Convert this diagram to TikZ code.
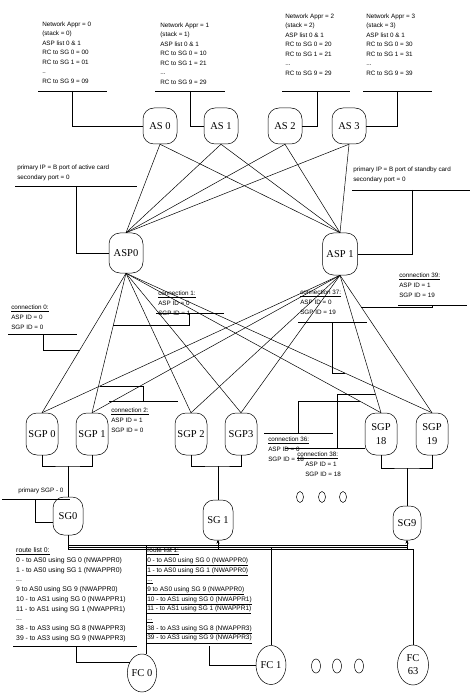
\documentclass[tikz,border=0pt]{standalone}
\usepackage{fontspec}
\setmainfont{Liberation Serif}
\setsansfont{Liberation Sans}
\usetikzlibrary{shapes.geometric,arrows.meta,calc}
\begin{document}
\begin{tikzpicture}[x=1pt,y=-1pt,line width=0.5pt,
  ndbox/.style={draw,rounded corners=11pt,minimum width=34pt,minimum height=38pt,inner sep=0pt,align=center,font=\fontsize{10.5}{14}\selectfont},
  fcbox/.style={draw,ellipse,inner sep=0pt,minimum width=28pt,minimum height=39pt,align=center,font=\fontsize{10.5}{13}\selectfont},
  smalldot/.style={draw,ellipse,inner sep=0pt,minimum width=7pt,minimum height=11pt},
  bigdot/.style={draw,ellipse,inner sep=0pt,minimum width=9pt,minimum height=14pt},
  txt/.style={anchor=north west,inner sep=0pt,align=left,font=\sffamily\fontsize{6.3}{9.5}\selectfont},
  rtxt/.style={anchor=north west,inner sep=0pt,align=left,font=\sffamily\fontsize{6.8}{9.7}\selectfont},
  ctxt/.style={anchor=north west,inner sep=0pt,align=left,font=\sffamily\fontsize{6.3}{10}\selectfont},
  tip/.style={{Stealth[length=3pt,width=2.5pt]}-}]
\useasboundingbox (0,0) rectangle (470,700);

% ---------- AS nodes ----------
\node[ndbox,minimum height=36pt] (as0) at (160,126) {AS 0};
\node[ndbox,minimum height=36pt] (as1) at (221,126) {AS 1};
\node[ndbox,minimum height=36pt] (as2) at (285,126) {AS 2};
\node[ndbox,minimum height=36pt] (as3) at (349,126) {AS 3};

% ---------- ASP nodes ----------
\node[ndbox,minimum height=40pt] (asp0) at (126,253) {ASP0};
\node[ndbox,minimum width=35pt,minimum height=42pt] (asp1) at (340,254) {ASP 1};

% ---------- SGP nodes ----------
\node[ndbox,minimum width=32pt,minimum height=42pt] (sgp0) at (42,434) {SGP 0};
\node[ndbox,minimum width=32pt,minimum height=42pt] (sgp1) at (92,434) {SGP 1};
\node[ndbox,minimum width=32pt,minimum height=42pt] (sgp2) at (191,434) {SGP 2};
\node[ndbox,minimum width=32pt,minimum height=42pt] (sgp3) at (241,434) {SGP3};
\node[ndbox,minimum width=32pt,minimum height=42pt] (sgp18) at (381,434) {SGP\\18};
\node[ndbox,minimum width=32pt,minimum height=42pt] (sgp19) at (432,434) {SGP\\19};

% ---------- SG nodes ----------
\node[ndbox,minimum width=30pt,minimum height=38pt] (sg0) at (68,516) {SG0};
\node[ndbox,minimum width=30pt,minimum height=40pt] (sg1) at (218,520) {SG 1};
\node[ndbox,minimum width=28pt,minimum height=34pt] (sg9) at (407,523) {SG9};

% ---------- FC nodes ----------
\node[fcbox,minimum width=26pt,minimum height=38pt] (fc0) at (142,673) {FC 0};
\node[fcbox,minimum width=30pt] (fc1) at (271,665) {FC 1};
\node[fcbox,minimum width=31pt,minimum height=40pt] (fc63) at (413,665) {FC\\63};

% ---------- dots ----------
\node[smalldot] (d1) at (300,497) {};
\node[smalldot] (d2) at (322,497) {};
\node[smalldot] (d3) at (343,497) {};
\node[bigdot] (d4) at (316,666) {};
\node[bigdot] (d5) at (337,666) {};
\node[bigdot] (d6) at (359,666) {};

% ---------- AS -- ASP ----------
\foreach \a in {as0,as1,as2,as3}{
  \draw (\a.south) -- (asp0.north);
  \draw (\a.south) -- (asp1.north);
}
% ---------- ASP -- SGP ----------
\foreach \s in {sgp0,sgp1,sgp2,sgp3,sgp18,sgp19}{
  \draw (asp0.south) -- (\s.north);
  \draw (asp1.south) -- (\s.north);
}

% ---------- SGP pairs -- SG ----------
\coordinate (j0) at (68,466);
\coordinate (j1) at (218,466);
\coordinate (j9) at (407,468);
\draw (sgp0.south) |- (j0) -| (sgp1.south);
\draw (j0) -- (sg0.north);
\draw (sgp2.south) |- (j1) -| (sgp3.south);
\draw (j1) -- (sg1.north);
\draw (sgp18.south) |- (j9) -| (sgp19.south);
\draw (j9) -- (sg9.north);

% ---------- SG -- FC bus ----------
\coordinate (b0) at (146,545);
\coordinate (b1) at (271,547);
\coordinate (b63) at (413,549);
\foreach \b/\f in {b0/fc0,b1/fc1,b63/fc63}{
  \draw (sg0.south) |- (\b) -- (\b |- \f.north);
  \draw[tip] (sg1.south) |- (\b) -- (\b |- \f.north);
  \draw[tip] (sg9.south) |- (\b) -- (\b |- \f.north);
}

% ---------- top text blocks ----------
\node[txt] (t0) at (42,21.5) {Network Appr = 0\\(stack = 0)\\ASP list 0 \& 1\\RC to SG 0 = 00\\RC to SG 1 = 01\\..\\RC to SG 9 = 09};
\node[txt] (t1) at (160,22.5) {Network Appr = 1\\(stack = 1)\\ASP list 0 \& 1\\RC to SG 0 = 10\\RC to SG 1 = 21\\...\\RC to SG 9 = 29};
\node[txt] (t2) at (285,13.5) {Network Appr = 2\\(stack = 2)\\ASP list 0 \& 1\\RC to SG 0 = 20\\RC to SG 1 = 21\\...\\RC to SG 9 = 29};
\node[txt] (t3) at (366,13.5) {Network Appr = 3\\(stack = 3)\\ASP list 0 \& 1\\RC to SG 0 = 30\\RC to SG 1 = 31\\...\\RC to SG 9 = 39};
\draw (38,91) -- (107,91);
\draw (155,91) -- (225,91);
\draw (282,91) -- (350,91);
\draw (363,91) -- (432,91);
\coordinate (u0) at (72,91);
\coordinate (u1) at (190,91);
\coordinate (u2) at (317,91);
\coordinate (u3) at (397,91);
\draw (u0) |- (as0.west);
\draw (u1) |- (as1.west);
\draw (u2) |- (as2.east);
\draw (u3) |- (as3.east);

% ---------- primary IP ----------
\node[ctxt] (pa) at (17,164.7) {primary IP = B port of active card\\secondary port = 0};
\node[ctxt] (pb) at (353,166.7) {primary IP = B port of standby card\\secondary port = 0};
\draw (15,186) -- (137,186);
\draw (352,190) -- (470,190);
\coordinate (pi0) at (76,186);
\coordinate (pi1) at (412,190);
\draw (pi0) |- (asp0.west);
\draw (pi1) |- (asp1.east);

% ---------- connection labels ----------
\node[ctxt] (c0) at (11,304.7) {\underline{connection 0:}\\ASP ID = 0\\SGP ID = 0};
\node[ctxt] (c1) at (158,290.7) {\underline{connection 1:}\\ASP ID = 0\\SGP ID = 1};
\node[ctxt] (c2) at (111,407.7) {\underline{connection 2:}\\ASP ID = 1\\SGP ID = 0};
\node[ctxt] (c37) at (300,289.7) {\underline{connection 37:}\\ASP ID = 0\\SGP ID = 19};
\node[ctxt] (c39) at (399,272.7) {\underline{connection 39:}\\ASP ID = 1\\SGP ID = 19};
\node[ctxt] (c36) at (268,436.7) {\underline{connection 36:}\\ASP ID = 0\\SGP ID = 18};
\node[ctxt] (c38) at (297,451.7) {\underline{connection 38:}\\\hspace*{8pt}ASP ID = 1\\\hspace*{8pt}SGP ID = 18};

\draw (8,334) -- (77,334);
\draw (156,313) -- (224,313);
\draw (109,401) -- (178,401);
\draw (298,322) -- (367,322);
\draw (398,305) -- (467,305);
\draw (264,433) -- (333,433);

\coordinate (k0) at (43,334);
\coordinate (k1) at (189,313);
\coordinate (k2) at (143,401);
\coordinate (k37) at (332,322);
\coordinate (k39) at (432,305);
\coordinate (k36) at (298,433);
\coordinate (k38) at (337,448);
\coordinate (e0) at (intersection of asp0.south--sgp0.north and 0,350--470,350);
\coordinate (e1) at (intersection of asp0.south--sgp1.north and 0,325--470,325);
\coordinate (e2) at (intersection of asp1.south--sgp0.north and 0,386--470,386);
\coordinate (e37) at (intersection of asp0.south--sgp19.north and 0,373--470,373);
\coordinate (e39) at (intersection of asp1.south--sgp19.north and 0,307--470,307);
\coordinate (e36) at (intersection of asp0.south--sgp18.north and 0,401--470,401);
\coordinate (e38) at (intersection of asp1.south--sgp18.north and 0,394--470,394);
\coordinate (s38a) at (285,448);
\coordinate (s38b) at (sgp18.west |- 0,448);
\draw (k0) |- (e0);
\draw (k1) |- (e1);
\draw (k2) |- (e2);
\draw (k37) |- (e37);
\draw (k39) |- (e39);
\draw (k36) |- (e36);
\draw (k38) |- (e38);
\draw (s38a) -- (s38b);

% ---------- primary SGP ----------
\node[ctxt] (ps) at (18,487.7) {primary SGP - 0};
\draw (2,499) -- (70,499);
\coordinate (psg) at (35,499);
\coordinate (psgend) at (sg0.west |- 0,522);
\draw (psg) |- (psgend);

% ---------- route lists ----------
\node[rtxt] (rl0) at (16,547.7) {\underline{route list 0:}\\0 - to AS0 using SG 0 (NWAPPR0)\\1 - to AS0 using SG 1 (NWAPPR0)\\...\\9 to AS0 using SG 9 (NWAPPR0)\\10 - to AS1 using SG 0 (NWAPPR1)\\11 - to AS1 using SG 1 (NWAPPR1)\\...\\38 - to AS3 using SG 8 (NWAPPR3)\\39 - to AS3 using SG 9 (NWAPPR3)};
\node[rtxt,font=\sffamily\fontsize{6.5}{9.7}\selectfont] (rl1) at (147,547.7) {\underline{route list 1:}\\\underline{0 - to AS0 using SG 0 (NWAPPR0)}\\\underline{1 - to AS0 using SG 1 (NWAPPR0)}\\\underline{...}\\\underline{9 to AS0 using SG 9 (NWAPPR0)}\\\underline{10 - to AS1 using SG 0 (NWAPPR1)}\\\underline{11 - to AS1 using SG 1 (NWAPPR1)}\\\underline{...}\\\underline{38 - to AS3 using SG 8 (NWAPPR3)}\\\underline{39 - to AS3 using SG 9 (NWAPPR3)}};
\draw (13,646) -- (137,646);
\coordinate (r0) at (76,646);
\coordinate (r1) at (209,646);
\draw (r0) |- (fc0.138);
\draw (r1) |- (fc1.west);
\end{tikzpicture}
\end{document}
